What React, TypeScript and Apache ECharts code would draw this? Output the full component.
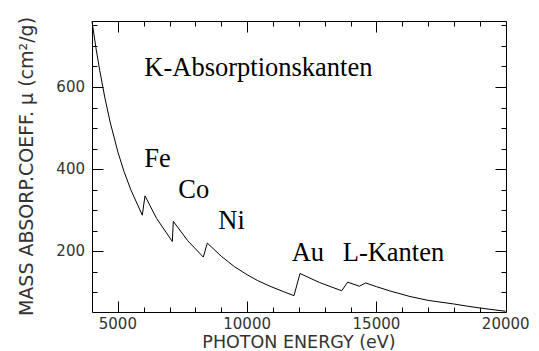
import React, { useEffect, useRef } from "react";
import * as echarts from "echarts";

// Photon energy (eV) and mass absorption coefficient (cm^2/g)
const energy = [4000, 4150, 4300, 4500, 4700, 5000, 5240, 5500, 5945, 6050, 6500, 7106, 7145, 7700, 8305, 8460, 9000, 9500, 10000, 10400, 10884, 11400, 11812, 12045, 12800, 13657, 13889, 14338, 14585, 15000, 15500, 16299, 17000, 17974, 18500, 19000, 20000];
const mu = [760, 696, 640, 573, 515, 442, 394, 350, 288, 335, 280, 224, 273, 226, 186, 220, 188, 163, 143, 129, 115, 102, 92, 146, 124, 104, 125, 115, 123, 114, 104, 90, 80.5, 72, 66.6, 62, 54];

const xMajorTicks = [5000, 10000, 15000, 20000];
const xMinorTicks = [6000, 7000, 8000, 9000, 11000, 12000, 13000, 14000, 16000, 17000, 18000, 19000];
const yMajorTicks = [200, 400, 600];
const yMinorTicks = [100, 150, 250, 300, 350, 450, 500, 550, 650, 700, 750];

const annotations = [
  { text: "K-Absorptionskanten", x: 144.3, y: 66.6 },
  { text: "Fe", x: 144.3, y: 157.8 },
  { text: "Co", x: 178.3, y: 189.4 },
  { text: "Ni", x: 218.3, y: 220.4 },
  { text: "Au", x: 291.7, y: 251.8 },
  { text: "L-Kanten", x: 342.7, y: 251.8 },
];

const X_MIN = 4000;
const X_MAX = 20000;
const Y_MIN = 53;
const Y_MAX = 760;
const MAJOR_LEN = 11;
const MINOR_LEN = 5;

const SANS = '"DejaVu Sans", sans-serif';
const SERIF = '"Liberation Serif", "Times New Roman", serif';

function tick(x1: number, y1: number, x2: number, y2: number) {
  return {
    type: "line",
    silent: true,
    z: 10,
    shape: { x1, y1, x2, y2 },
    style: { stroke: "#000", lineWidth: 1 },
  };
}

export default function App() {
  const ref = useRef<HTMLDivElement>(null);
  useEffect(() => {
    document.body.style.margin = "0";
    if (!ref.current) return;
    const chart = echarts.init(ref.current, undefined, { renderer: "svg" });
    const data = energy.map((e, i) => [e, mu[i]]);
    const textGraphics = [
      ...annotations.map((a) => ({
        type: "text",
        x: a.x,
        y: a.y,
        style: {
          text: a.text,
          fill: "#000",
          font: `26.5px ${SERIF}`,
          align: "left",
          verticalAlign: "middle",
          textAlign: "left",
          textVerticalAlign: "middle",
        },
      })),
      {
        type: "text",
        x: 299,
        y: 341.5,
        style: {
          text: "PHOTON ENERGY (eV)",
          fill: "#333",
          font: `17.5px ${SANS}`,
          align: "center",
          verticalAlign: "middle",
          textAlign: "center",
          textVerticalAlign: "middle",
        },
      },
      {
        type: "text",
        x: 26.4,
        y: 166.5,
        rotation: Math.PI / 2,
        style: {
          text: "MASS ABSORP.COEFF. μ (cm²/g)",
          fill: "#333",
          font: `19px ${SANS}`,
          align: "center",
          verticalAlign: "middle",
          textAlign: "center",
          textVerticalAlign: "middle",
        },
      },
    ];
    chart.setOption({
      animation: false,
      backgroundColor: "#fff",
      grid: { left: 92, top: 21.3, right: 33.3, bottom: 39.3, containLabel: false },
      xAxis: {
        type: "value",
        min: X_MIN,
        max: X_MAX,
        axisLine: { show: false },
        axisTick: { show: false },
        axisLabel: {
          show: true,
          customValues: xMajorTicks,
          formatter: (v: number) => String(v),
          margin: 5,
          color: "#333",
          fontSize: 15,
          fontFamily: SANS,
        },
        splitLine: { show: false },
      },
      yAxis: {
        type: "value",
        min: Y_MIN,
        max: Y_MAX,
        axisLine: { show: false },
        axisTick: { show: false },
        axisLabel: {
          show: true,
          customValues: yMajorTicks,
          formatter: (v: number) => String(v),
          margin: 7,
          color: "#333",
          fontSize: 15,
          fontFamily: SANS,
        },
        splitLine: { show: false },
      },
      series: [
        {
          type: "line",
          data,
          showSymbol: false,
          symbol: "none",
          lineStyle: { color: "#000", width: 1 },
          clip: true,
          z: 3,
        },
      ],
      graphic: textGraphics,
    });

    // Ticks and frame, placed through the chart's own scales
    const toPx = (x: number, y: number) => chart.convertToPixel({ gridIndex: 0 }, [x, y]) as number[];
    const bl = toPx(X_MIN, Y_MIN);
    const tr = toPx(X_MAX, Y_MAX);
    const left = Math.round(bl[0]) + 0.5;
    const right = Math.round(tr[0]) + 0.5;
    const top = Math.round(tr[1]) + 0.5;
    const bottom = Math.round(bl[1]) + 0.5;
    const ticks: any[] = [];
    const addX = (v: number, len: number) => {
      const px = Math.round(toPx(v, Y_MIN)[0]) + 0.5;
      ticks.push(tick(px, bottom, px, bottom - len));
      ticks.push(tick(px, top, px, top + len));
    };
    const addY = (v: number, len: number) => {
      const py = Math.round(toPx(X_MIN, v)[1]) + 0.5;
      ticks.push(tick(left, py, left + len, py));
      ticks.push(tick(right, py, right - len, py));
    };
    xMajorTicks.forEach((v) => addX(v, MAJOR_LEN));
    xMinorTicks.forEach((v) => addX(v, MINOR_LEN));
    yMajorTicks.forEach((v) => addY(v, MAJOR_LEN));
    yMinorTicks.forEach((v) => addY(v, MINOR_LEN));
    ticks.push({
      type: "polyline",
      silent: true,
      z: 10,
      shape: { points: [[left, top], [right, top], [right, bottom], [left, bottom], [left, top]] },
      style: { stroke: "#000", lineWidth: 1, fill: null },
    });
    chart.setOption({ graphic: [...textGraphics, ...ticks] });
    return () => chart.dispose();
  }, []);
  return <div ref={ref} style={{ width: 539, height: 351 }} />;
}
